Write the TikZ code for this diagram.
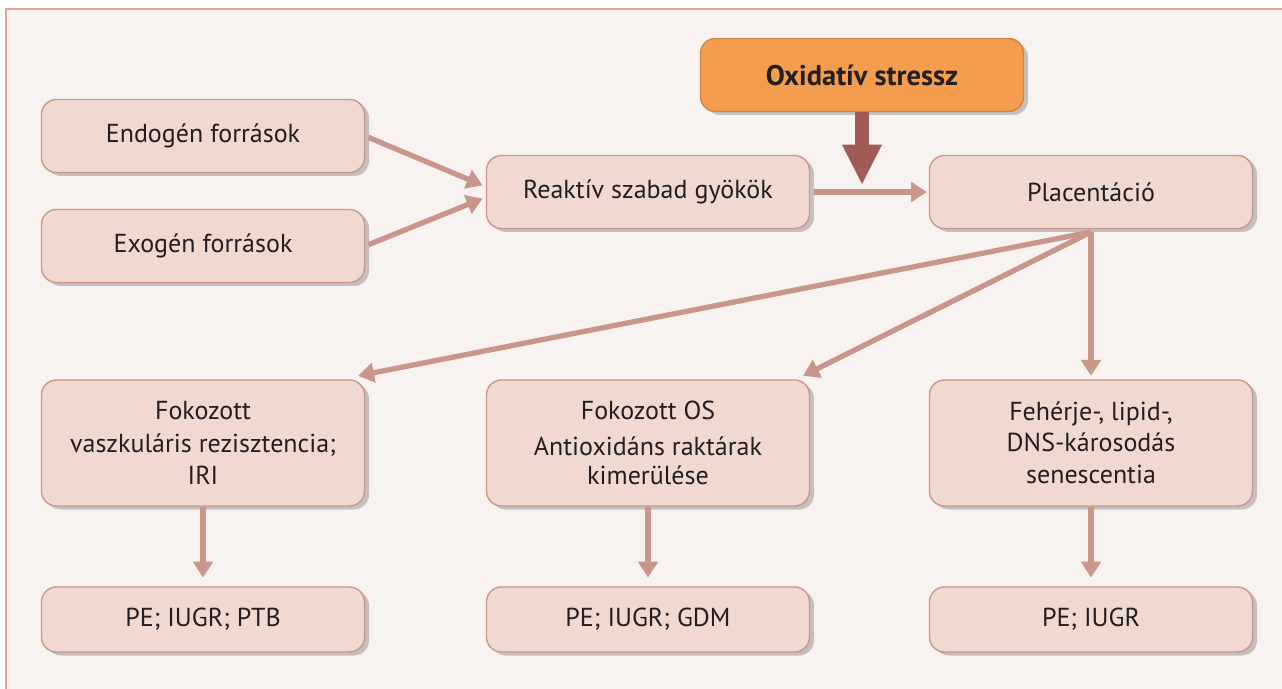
\documentclass[tikz,border=0pt]{standalone}
\usepackage{fontspec}
\setmainfont{PT Sans}
\usetikzlibrary{arrows.meta,shadows}

\definecolor{bgcol}{HTML}{F8F3F0}
\definecolor{framecol}{HTML}{E2A493}
\definecolor{boxfill}{HTML}{F0DAD0}
\definecolor{boxline}{HTML}{C9978B}
\definecolor{arrcol}{HTML}{C8968A}
\definecolor{stressfill}{HTML}{F59D4E}
\definecolor{stressarr}{HTML}{A15B57}
\definecolor{txtcol}{HTML}{231F20}

\begin{document}
\begin{tikzpicture}[
  every node/.style={font=\fontsize{14.8}{18.5}\selectfont, text=txtcol},
  box/.style={draw=boxline, line width=0.8pt, rounded corners=0.3cm, align=center, fill=boxfill,
    minimum width=6.46cm, minimum height=1.46cm,
    drop shadow={shadow xshift=0.09cm, shadow yshift=-0.07cm, opacity=0.3, fill=black!70}},
  tallbox/.style={box, minimum height=2.52cm},
  lowbox/.style={box, minimum height=1.3cm},
  stressbox/.style={box, draw=stressfill!85!black, fill=stressfill, font=\fontsize{16.2}{19}\selectfont\bfseries},
  arr/.style={draw=arrcol, line width=3pt, -{Triangle[length=9pt,width=11pt]}},
  bigarr/.style={draw=stressarr, line width=8.5pt, -{Triangle[length=23pt,width=21pt]}},
]
\useasboundingbox (0,0) rectangle (25.64,-13.78);
\fill[bgcol] (0.12,-0.18) rectangle (25.64,-13.78);
\draw[framecol, line width=0.9pt] (0.12,-13.78) -- (0.12,-0.18) -- (25.64,-0.18);

% upper part
\node[box] (endo) at (4.06,-2.72) {Endogén források};
\node[box] (exo) at (4.06,-4.92) {Exogén források};
\node[box] (reaktiv) at (12.96,-3.84) {Reaktív szabad gyökök};
\node[box] (placenta) at (21.82,-3.84) {Placentáció};
\node[stressbox] (stress) at (17.24,-1.5) {Oxidatív stressz};
\coordinate (osend) at (17.24,-3.70);
\coordinate (fan) at (21.82,-4.64);

% row 3
\node[tallbox] (vasc) at (4.06,-8.86) {Fokozott\\vaszkuláris rezisztencia;\\IRI};
\node[tallbox] (antiox) at (12.96,-8.86) {Fokozott OS\\[2pt]Antioxidáns raktárak\\[-2pt]kimerülése};
\node[tallbox] (damage) at (21.82,-8.86) {Fehérje-, lipid-,\\[-1pt]DNS-károsodás\\senescentia};

% row 4
\node[lowbox] (outa) at (4.06,-12.39) {PE; IUGR; PTB};
\node[lowbox] (outb) at (12.96,-12.39) {PE; IUGR; GDM};
\node[lowbox] (outc) at (21.82,-12.39) {PE; IUGR};

\draw[arr, shorten <=2pt, shorten >=2pt] (endo.east) -- ([yshift=3pt]reaktiv.west);
\draw[arr, shorten <=2pt, shorten >=2pt] (exo.east) -- ([yshift=-3pt]reaktiv.west);
\draw[arr, shorten <=2pt, shorten >=1pt] (reaktiv.east) -- (placenta.west);
\draw[bigarr] (stress.south) -- (osend);

\draw[arr] (fan) -- ([xshift=-4pt,yshift=2pt]vasc.north east);
\draw[arr] (fan) -- ([xshift=-4pt,yshift=2pt]antiox.north east);
\draw[arr, shorten >=2pt] (fan) -- (damage.north);

\draw[arr, shorten >=5pt] (vasc.south) -- (outa.north);
\draw[arr, shorten >=5pt] (antiox.south) -- (outb.north);
\draw[arr, shorten >=5pt] (damage.south) -- (outc.north);
\end{tikzpicture}
\end{document}
